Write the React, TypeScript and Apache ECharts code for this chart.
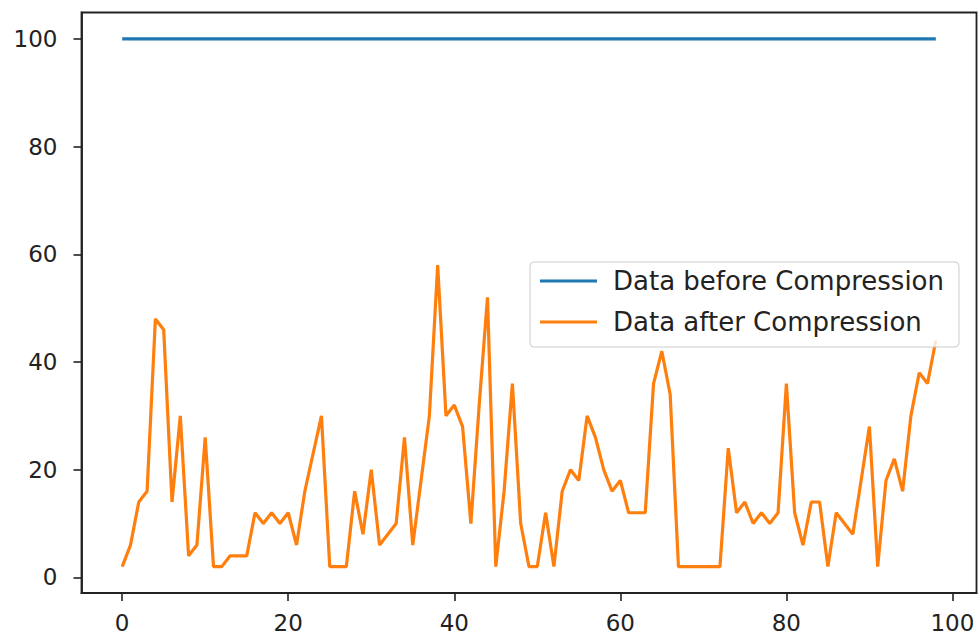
import React, { useEffect, useRef } from "react";
import * as echarts from "echarts";

const seriesNames = ["Data before Compression", "Data after Compression"];

const beforeValues: number[] = [
  100, 100, 100, 100, 100, 100, 100, 100, 100, 100,
  100, 100, 100, 100, 100, 100, 100, 100, 100, 100,
  100, 100, 100, 100, 100, 100, 100, 100, 100, 100,
  100, 100, 100, 100, 100, 100, 100, 100, 100, 100,
  100, 100, 100, 100, 100, 100, 100, 100, 100, 100,
  100, 100, 100, 100, 100, 100, 100, 100, 100, 100,
  100, 100, 100, 100, 100, 100, 100, 100, 100, 100,
  100, 100, 100, 100, 100, 100, 100, 100, 100, 100,
  100, 100, 100, 100, 100, 100, 100, 100, 100, 100,
  100, 100, 100, 100, 100, 100, 100, 100, 100,
];

const afterValues: number[] = [
  2, 6, 14, 16, 48, 46, 14, 30, 4, 6,
  26, 2, 2, 4, 4, 4, 12, 10, 12, 10,
  12, 6, 16, 23, 30, 2, 2, 2, 16, 8,
  20, 6, 8, 10, 26, 6, 18, 30, 58, 30,
  32, 28, 10, 32, 52, 2, 16, 36, 10, 2,
  2, 12, 2, 16, 20, 18, 30, 26, 20, 16,
  18, 12, 12, 12, 36, 42, 34, 2, 2, 2,
  2, 2, 2, 24, 12, 14, 10, 12, 10, 12,
  36, 12, 6, 14, 14, 2, 12, 10, 8, 18,
  28, 2, 18, 22, 16, 30, 38, 36, 44,
];

const xTicks = [0, 20, 40, 60, 80, 100];
const yTicks = [0, 20, 40, 60, 80, 100];

const colors = ["#1f77b4", "#ff7f0e"];

export default function App() {
  const ref = useRef<HTMLDivElement>(null);

  useEffect(() => {
    if (!ref.current) return;
    const chart = echarts.init(ref.current, undefined, { renderer: "svg" });
    const toPairs = (vals: number[]) => vals.map((v, i) => [i, v]);
    const labelStyle = {
      color: "#222",
      fontSize: 23,
      fontFamily: "DejaVu Sans",
    };
    chart.setOption({
      animation: false,
      backgroundColor: "#fff",
      grid: {
        left: 81.5,
        right: 3.5,
        top: 12.5,
        bottom: 46,
        show: true,
        borderColor: "#222",
        borderWidth: 1.8,
        backgroundColor: "transparent",
        containLabel: false,
      },
      legend: {
        orient: "vertical",
        left: 530,
        top: 262,
        data: seriesNames.map((n) => ({ name: n, icon: "rect" })),
        itemWidth: 57,
        itemHeight: 3,
        itemGap: 11,
        padding: [4, 15, 10, 10],
        backgroundColor: "rgba(255,255,255,0.8)",
        borderColor: "#cccccc",
        borderWidth: 1,
        borderRadius: 4,
        textStyle: {
          color: "#222",
          fontSize: 26,
          fontFamily: "DejaVu Sans",
          lineHeight: 30,
          padding: [0, 0, 0, 11],
        },
        z: 10,
      },
      xAxis: {
        type: "value",
        min: -4.9,
        max: 102.9,
        splitLine: { show: false },
        axisLine: { show: true, onZero: false, lineStyle: { color: "#222", width: 1.8 } },
        axisTick: {
          show: true,
          length: 8,
          customValues: xTicks,
          lineStyle: { color: "#222", width: 1.6 },
        },
        axisLabel: { ...labelStyle, margin: 18, customValues: xTicks },
      },
      yAxis: {
        type: "value",
        min: -2.9,
        max: 104.9,
        splitLine: { show: false },
        axisLine: { show: true, onZero: false, lineStyle: { color: "#222", width: 1.8 } },
        axisTick: {
          show: true,
          length: 8,
          customValues: yTicks,
          lineStyle: { color: "#222", width: 1.6 },
        },
        axisLabel: { ...labelStyle, margin: 24, customValues: yTicks },
      },
      series: [
        {
          name: seriesNames[0],
          type: "line",
          data: toPairs(beforeValues),
          showSymbol: false,
          symbol: "none",
          color: colors[0],
          lineStyle: { color: colors[0], width: 3.2 },
          z: 2,
        },
        {
          name: seriesNames[1],
          type: "line",
          data: toPairs(afterValues),
          showSymbol: false,
          symbol: "none",
          color: colors[1],
          lineStyle: { color: colors[1], width: 3.2 },
          z: 3,
        },
      ],
    });
    return () => chart.dispose();
  }, []);

  return <div ref={ref} style={{ width: 980, height: 639, position: "absolute", left: 0, top: 0 }} />;
}
